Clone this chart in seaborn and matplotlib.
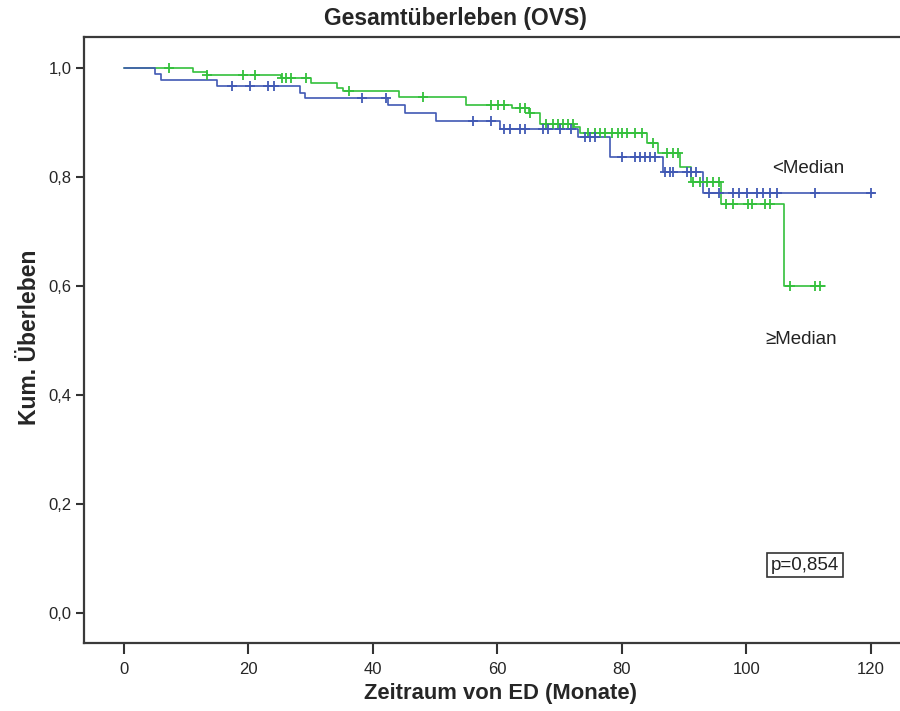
import numpy as np
import pandas as pd
import matplotlib
matplotlib.use("Agg")
import matplotlib.pyplot as plt
import seaborn as sns

# ---- data ----
groups = ["<Median", "\u2265Median"]

blue_times = [0, 5.0, 6.05, 14.9, 28.3, 29.1, 42.4, 45.1, 50.2, 60.4, 72.9, 78.1, 86.6, 93.0]
blue_surv = [1.0, 0.990, 0.978, 0.967, 0.955, 0.945, 0.932, 0.917, 0.902, 0.889, 0.874, 0.837, 0.810, 0.770]
blue_end = 120.6
blue_cens = [17.3, 20.2, 23.1, 24.1, 38.2, 42.2, 56.1, 59.0, 61.0, 62.0, 63.6, 64.4, 67.3, 68.1,
             70.0, 71.9, 74.1, 74.9, 75.7, 80.0, 82.1, 82.9, 83.7, 84.5, 85.3, 87.0, 87.7, 88.2,
             90.4, 91.2, 92.0, 94.0, 95.7, 97.8, 98.9, 100.1, 101.8, 102.7, 103.8, 104.9, 111.0, 120.0]

green_times = [0, 11.1, 13.3, 25.3, 30.1, 34.2, 35.2, 44.2, 55.0, 62.3, 65.1, 66.8, 72.4, 73.3,
               84.0, 85.9, 89.3, 91.2, 96.0, 106.0]
green_surv = [1.0, 0.993, 0.988, 0.981, 0.973, 0.963, 0.957, 0.947, 0.933, 0.926, 0.917, 0.898,
              0.892, 0.881, 0.862, 0.845, 0.819, 0.791, 0.750, 0.600]
green_end = 112.6
green_cens = [7.2, 13.4, 19.1, 21.0, 25.4, 26.0, 26.9, 29.3, 36.2, 48.1, 59.0, 60.1, 61.0, 63.6,
              64.4, 65.3, 67.9, 68.9, 69.8, 70.6, 71.4, 72.2, 74.6, 75.7, 76.5, 77.3, 78.4, 79.4,
              80.1, 80.9, 82.1, 83.2, 85.0, 87.2, 88.2, 89.0, 91.5, 92.5, 93.7, 94.6, 95.7, 96.8,
              97.8, 100.2, 100.9, 103.0, 103.8, 107.0, 111.0, 111.9]

y_ticks = [0.0, 0.2, 0.4, 0.6, 0.8, 1.0]
y_ticklabels = ["0,0", "0,2", "0,4", "0,6", "0,8", "1,0"]
x_ticks = [0, 20, 40, 60, 80, 100, 120]
p_text = "p=0,854"

colors = {groups[0]: "#4159b4", groups[1]: "#34c03c"}

# ---- build tables ----
def curve_df(times, surv, end, name):
    t = list(times) + [end]
    s = list(surv) + [surv[-1]]
    return pd.DataFrame({"time": t, "surv": s, "group": name})

def cens_df(times, surv, cens, name):
    idx = np.searchsorted(np.array(times), np.array(cens), side="right") - 1
    return pd.DataFrame({"time": cens, "surv": np.array(surv)[idx], "group": name})

curves = pd.concat([curve_df(blue_times, blue_surv, blue_end, groups[0]),
                    curve_df(green_times, green_surv, green_end, groups[1])])
censors = pd.concat([cens_df(blue_times, blue_surv, blue_cens, groups[0]),
                     cens_df(green_times, green_surv, green_cens, groups[1])])

sns.set_theme(style="white")
plt.rcParams["font.family"] = ["Liberation Sans", "DejaVu Sans"]

fig = plt.figure(figsize=(9, 7.11), dpi=100)
ax = fig.add_axes([84 / 900, 68 / 711, 1 - 84 / 900, (643 - 37) / 711])

for g in [groups[1], groups[0]]:
    sub = curves[curves.group == g]
    sns.lineplot(data=sub, x="time", y="surv", ax=ax, color=colors[g], estimator=None,
                 sort=False, drawstyle="steps-post", linewidth=1.2, legend=False)
    csub = censors[censors.group == g]
    sns.scatterplot(data=csub, x="time", y="surv", ax=ax, color=colors[g], marker="+",
                    s=55, linewidth=1.3, legend=False, zorder=3)

ax.set_xlim(-6.4, 124.7)
ax.set_ylim(-0.055, 1.057)
ax.set_xticks(x_ticks)
ax.set_xticklabels([str(v) for v in x_ticks])
ax.set_yticks(y_ticks)
ax.set_yticklabels(y_ticklabels)
ax.set_xlabel("")
ax.set_ylabel("")
ax.tick_params(axis="x", direction="out", length=8, width=1.5, color="#333333",
               labelsize=12, pad=6, bottom=True)
ax.tick_params(axis="y", direction="out", length=6, width=1.5, color="#333333",
               labelsize=12, pad=3, left=True)
for side in ["left", "bottom", "top"]:
    ax.spines[side].set_color("#3a3a3a")
    ax.spines[side].set_linewidth(1.6)
ax.spines["right"].set_visible(False)

ax.text(104.1, 0.8165, groups[0], fontsize=13.5, va="center", ha="left", color="#222222")
ax.text(103.0, 0.501, groups[1], fontsize=13.5, va="center", ha="left", color="#222222")
ax.text(109.4, 0.088, p_text, fontsize=13.5, va="center", ha="center", color="#222222",
        bbox=dict(boxstyle="square,pad=0.2", facecolor="white", edgecolor="#333333", linewidth=1.2))

fig.text(455 / 900, 1 - 18 / 711, "Gesamt\u00fcberleben (OVS)", fontsize=16.5, fontweight="bold",
         ha="center", va="center")
fig.text(500 / 900, 1 - 693 / 711, "Zeitraum von ED (Monate)", fontsize=15.8, fontweight="bold",
         ha="center", va="center")
fig.text(30 / 900, 1 - 337 / 711, "Kum. \u00dcberleben", fontsize=16.5, fontweight="bold",
         ha="center", va="center", rotation=90)

fig.savefig("out.png", dpi=100)
